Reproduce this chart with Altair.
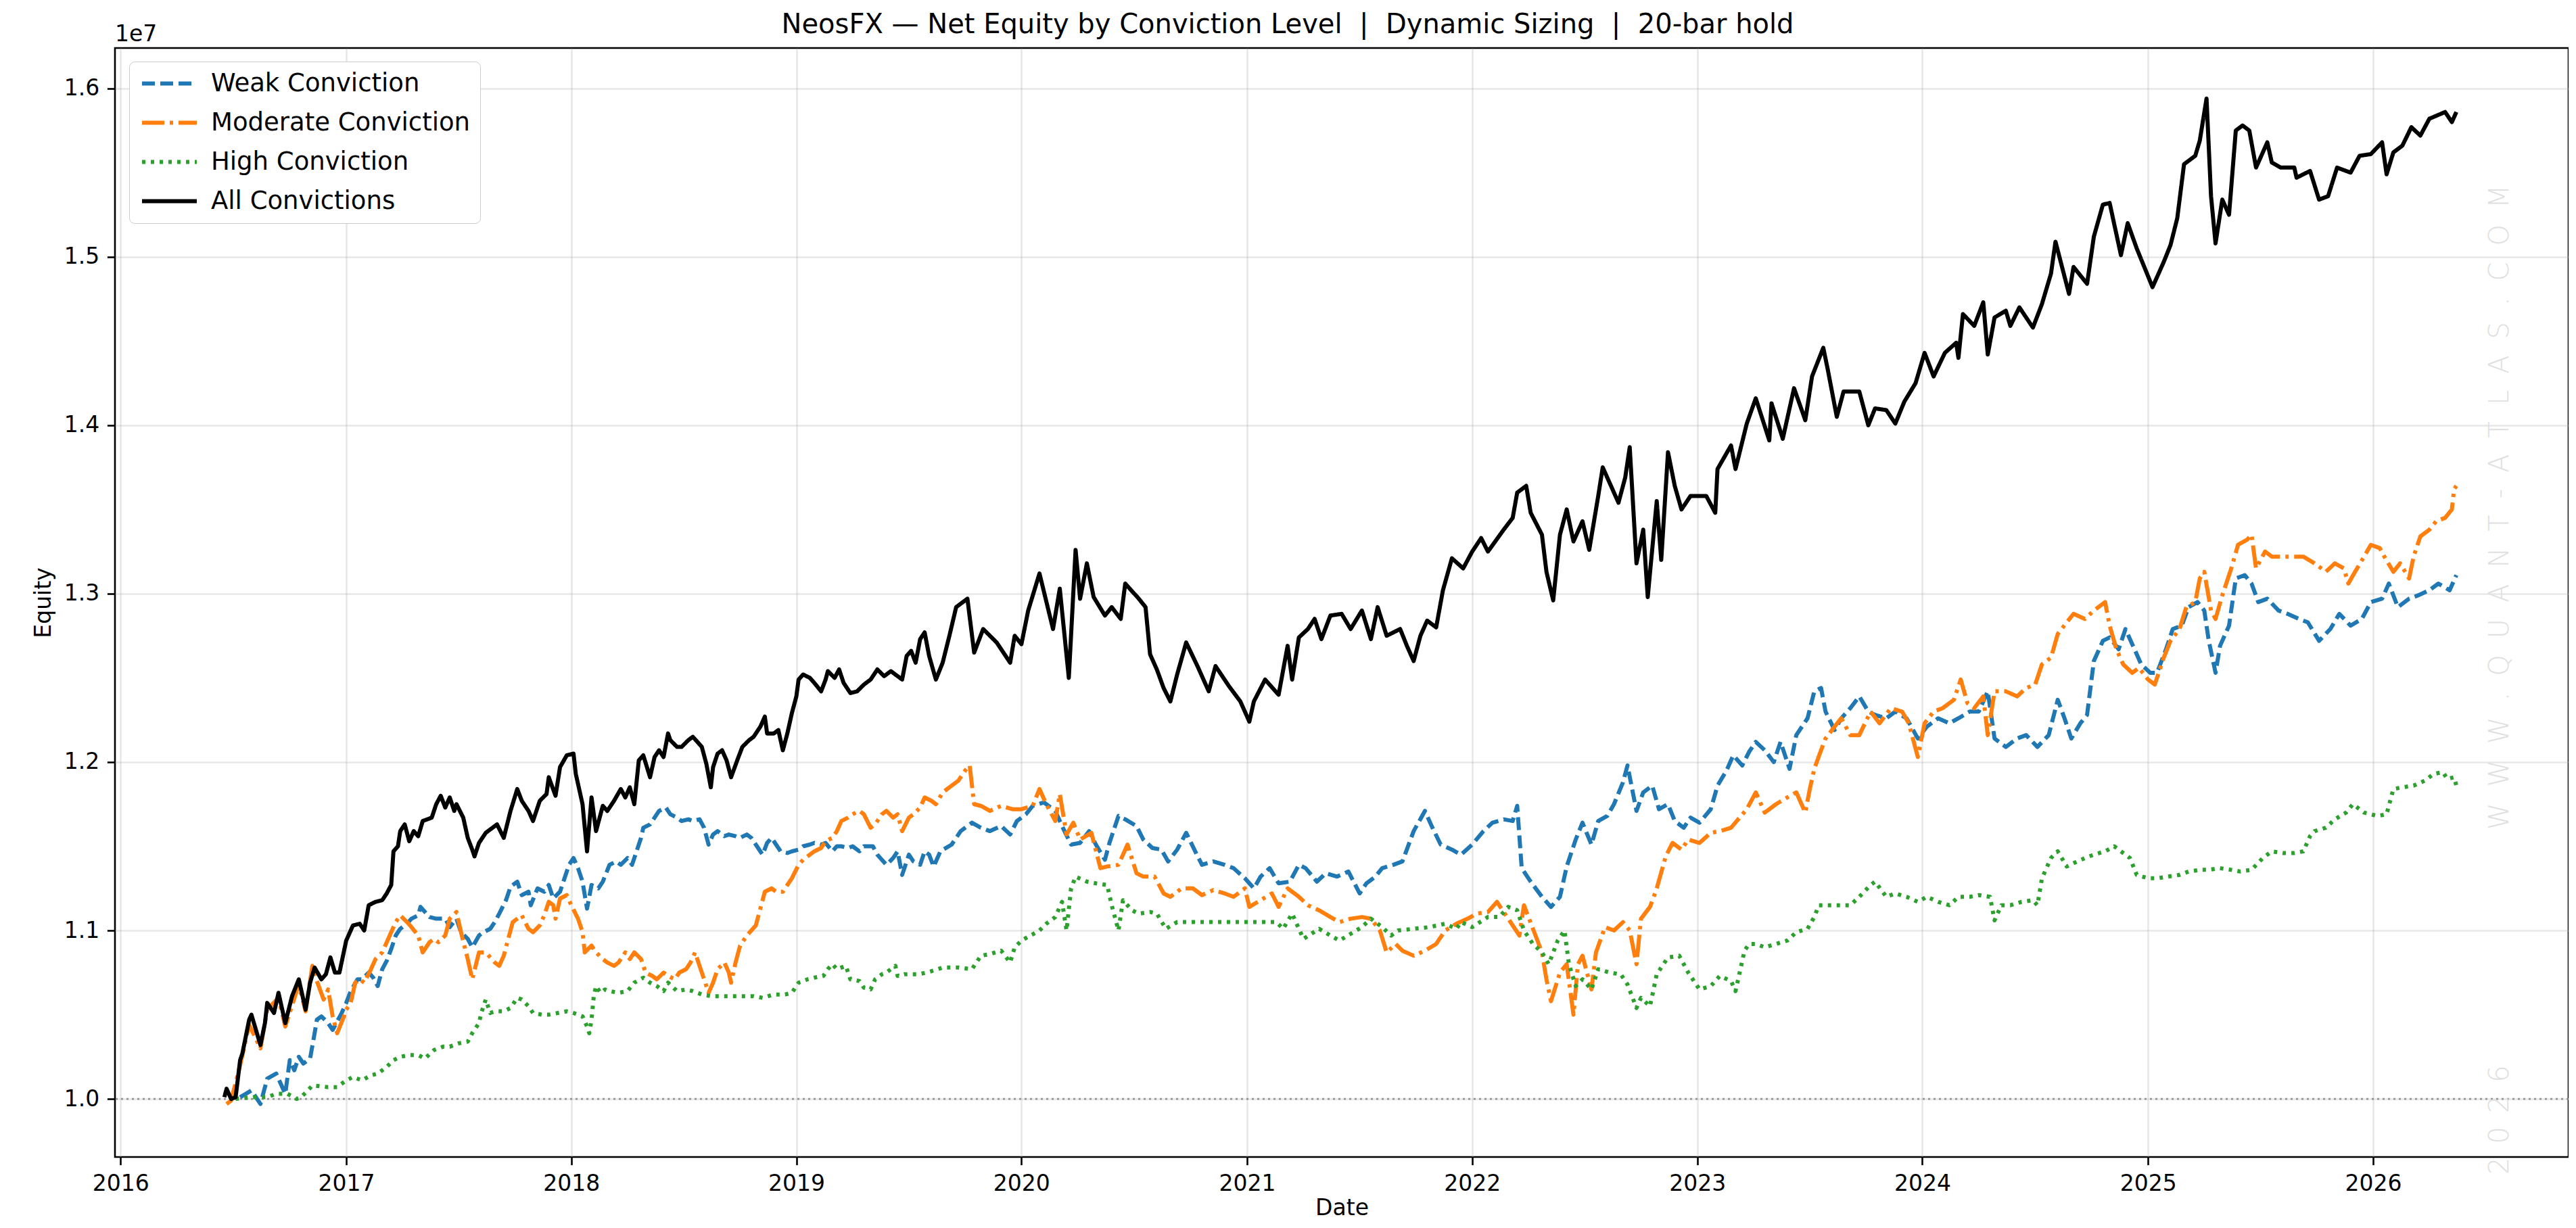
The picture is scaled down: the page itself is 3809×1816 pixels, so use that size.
import altair as alt
import pandas as pd

# ---------------- data (equity in units of 1e7, time in decimal years) ----------------
series_names = ["Weak Conviction", "Moderate Conviction", "High Conviction", "All Convictions"]
series_colors = ["#1f77b4", "#ff7f0e", "#2ca02c", "#000000"]
series_dashes = [[19, 8], [33, 8, 5, 8], [5, 8], [1, 0]]
series_widths = [6, 6, 6, 10]

weak_years = [2016.53, 2016.58, 2016.62, 2016.65, 2016.69, 2016.71, 2016.73, 2016.75, 2016.77, 2016.79,
              2016.81, 2016.84, 2016.86, 2016.87, 2016.89, 2016.92, 2016.94, 2016.98, 2017.00, 2017.02,
              2017.05, 2017.07, 2017.10, 2017.12, 2017.14, 2017.16, 2017.18, 2017.20, 2017.22, 2017.24,
              2017.27, 2017.29, 2017.32, 2017.33, 2017.37, 2017.40, 2017.44, 2017.46, 2017.49, 2017.51,
              2017.54, 2017.56, 2017.59, 2017.61, 2017.64, 2017.66, 2017.68, 2017.71, 2017.73, 2017.76,
              2017.78, 2017.81, 2017.82, 2017.85, 2017.88, 2017.90, 2017.92, 2017.95, 2017.97, 2017.99,
              2018.01, 2018.03, 2018.05, 2018.07, 2018.09, 2018.12, 2018.14, 2018.17, 2018.20, 2018.22,
              2018.25, 2018.27, 2018.29, 2018.31, 2018.32, 2018.35, 2018.37, 2018.39, 2018.42, 2018.44,
              2018.47, 2018.49, 2018.52, 2018.54, 2018.57, 2018.59, 2018.61, 2018.63, 2018.65, 2018.68,
              2018.70, 2018.73, 2018.75, 2018.78, 2018.80, 2018.82, 2018.85, 2018.87, 2018.89, 2018.91,
              2018.93, 2018.96, 2018.98, 2019.01, 2019.03, 2019.06, 2019.08, 2019.11, 2019.13, 2019.16,
              2019.18, 2019.20, 2019.23, 2019.25, 2019.28, 2019.30, 2019.34, 2019.36, 2019.38, 2019.40,
              2019.43, 2019.45, 2019.47, 2019.50, 2019.52, 2019.55, 2019.57, 2019.59, 2019.61, 2019.64,
              2019.69, 2019.73, 2019.78, 2019.82, 2019.86, 2019.91, 2019.95, 2019.98, 2020.02, 2020.05,
              2020.10, 2020.15, 2020.18, 2020.22, 2020.26, 2020.30, 2020.33, 2020.37, 2020.39, 2020.43,
              2020.46, 2020.51, 2020.54, 2020.58, 2020.62, 2020.65, 2020.69, 2020.73, 2020.77, 2020.80,
              2020.85, 2020.90, 2020.94, 2020.99, 2021.03, 2021.06, 2021.10, 2021.14, 2021.19, 2021.23,
              2021.26, 2021.31, 2021.35, 2021.40, 2021.45, 2021.50, 2021.53, 2021.57, 2021.60, 2021.65,
              2021.69, 2021.74, 2021.79, 2021.82, 2021.86, 2021.91, 2021.95, 2022.00, 2022.05, 2022.09,
              2022.14, 2022.18, 2022.20, 2022.22, 2022.26, 2022.31, 2022.35, 2022.39, 2022.42, 2022.46,
              2022.49, 2022.53, 2022.56, 2022.60, 2022.63, 2022.67, 2022.69, 2022.73, 2022.76, 2022.80,
              2022.83, 2022.87, 2022.90, 2022.94, 2022.97, 2023.01, 2023.06, 2023.09, 2023.13, 2023.16,
              2023.20, 2023.23, 2023.26, 2023.30, 2023.34, 2023.37, 2023.41, 2023.44, 2023.49, 2023.52,
              2023.55, 2023.57, 2023.61, 2023.64, 2023.68, 2023.72, 2023.76, 2023.79, 2023.84, 2023.88,
              2023.93, 2023.98, 2024.02, 2024.07, 2024.12, 2024.16, 2024.21, 2024.25, 2024.29, 2024.32,
              2024.37, 2024.42, 2024.46, 2024.51, 2024.56, 2024.60, 2024.63, 2024.66, 2024.70, 2024.73,
              2024.76, 2024.80, 2024.83, 2024.87, 2024.90, 2024.94, 2024.97, 2025.01, 2025.04, 2025.08,
              2025.11, 2025.15, 2025.18, 2025.22, 2025.25, 2025.27, 2025.30, 2025.32, 2025.36, 2025.39,
              2025.43, 2025.46, 2025.49, 2025.53, 2025.58, 2025.62, 2025.67, 2025.71, 2025.76, 2025.81,
              2025.85, 2025.90, 2025.95, 2025.99, 2026.04, 2026.07, 2026.11, 2026.16, 2026.20, 2026.25,
              2026.29, 2026.34, 2026.37]
weak_equity = [1.001, 1.005, 0.997, 1.012, 1.015, 1.009, 1.003, 1.023, 1.017, 1.025,
               1.021, 1.024, 1.039, 1.047, 1.049, 1.045, 1.041, 1.051, 1.057, 1.064,
               1.071, 1.071, 1.075, 1.072, 1.067, 1.077, 1.082, 1.089, 1.097, 1.101,
               1.104, 1.107, 1.109, 1.114, 1.108, 1.107, 1.107, 1.102, 1.107, 1.099,
               1.095, 1.090, 1.097, 1.099, 1.101, 1.105, 1.110, 1.118, 1.126, 1.129,
               1.121, 1.123, 1.115, 1.125, 1.123, 1.127, 1.119, 1.123, 1.131, 1.139,
               1.143, 1.137, 1.129, 1.113, 1.127, 1.125, 1.129, 1.139, 1.141, 1.139,
               1.143, 1.139, 1.147, 1.155, 1.161, 1.163, 1.167, 1.171, 1.173, 1.169,
               1.167, 1.165, 1.166, 1.165, 1.166, 1.161, 1.151, 1.157, 1.159, 1.156,
               1.157, 1.156, 1.155, 1.157, 1.155, 1.151, 1.145, 1.152, 1.155, 1.151,
               1.147, 1.146, 1.147, 1.148, 1.150, 1.151, 1.152, 1.151, 1.152, 1.147,
               1.150, 1.150, 1.149, 1.150, 1.147, 1.150, 1.150, 1.145, 1.142, 1.139,
               1.143, 1.147, 1.133, 1.145, 1.141, 1.139, 1.147, 1.145, 1.138, 1.147,
               1.151, 1.159, 1.164, 1.161, 1.159, 1.162, 1.157, 1.165, 1.169, 1.174,
               1.176, 1.171, 1.162, 1.151, 1.152, 1.159, 1.151, 1.142, 1.152, 1.168,
               1.166, 1.162, 1.154, 1.149, 1.148, 1.141, 1.148, 1.158, 1.147, 1.139,
               1.141, 1.139, 1.137, 1.131, 1.125, 1.132, 1.137, 1.128, 1.129, 1.139,
               1.137, 1.129, 1.134, 1.132, 1.135, 1.122, 1.128, 1.132, 1.137, 1.139,
               1.141, 1.159, 1.171, 1.162, 1.151, 1.148, 1.145, 1.151, 1.159, 1.164,
               1.166, 1.165, 1.174, 1.137, 1.129, 1.120, 1.114, 1.120, 1.138, 1.154,
               1.164, 1.151, 1.165, 1.168, 1.175, 1.188, 1.198, 1.171, 1.182, 1.186,
               1.172, 1.175, 1.165, 1.161, 1.167, 1.164, 1.172, 1.186, 1.195, 1.204,
               1.198, 1.206, 1.212, 1.207, 1.200, 1.212, 1.196, 1.216, 1.226, 1.242,
               1.244, 1.230, 1.219, 1.226, 1.232, 1.239, 1.230, 1.228, 1.226, 1.230,
               1.226, 1.214, 1.221, 1.226, 1.223, 1.226, 1.230, 1.230, 1.242, 1.214,
               1.209, 1.214, 1.216, 1.209, 1.216, 1.237, 1.226, 1.214, 1.223, 1.228,
               1.260, 1.272, 1.274, 1.267, 1.279, 1.267, 1.258, 1.253, 1.253, 1.267,
               1.279, 1.281, 1.292, 1.295, 1.290, 1.272, 1.253, 1.269, 1.281, 1.309,
               1.311, 1.306, 1.295, 1.297, 1.290, 1.288, 1.285, 1.283, 1.272, 1.279,
               1.288, 1.281, 1.285, 1.295, 1.297, 1.306, 1.292, 1.297, 1.299, 1.302,
               1.306, 1.302, 1.311]

moderate_years = [2016.47, 2016.49, 2016.53, 2016.57, 2016.62, 2016.65, 2016.70, 2016.73, 2016.79, 2016.82,
                  2016.85, 2016.87, 2016.90, 2016.92, 2016.94, 2016.96, 2016.99, 2017.00, 2017.02, 2017.04,
                  2017.06, 2017.08, 2017.11, 2017.13, 2017.16, 2017.18, 2017.20, 2017.22, 2017.24, 2017.27,
                  2017.29, 2017.32, 2017.34, 2017.37, 2017.39, 2017.41, 2017.44, 2017.46, 2017.49, 2017.51,
                  2017.54, 2017.56, 2017.59, 2017.62, 2017.64, 2017.66, 2017.68, 2017.70, 2017.72, 2017.74,
                  2017.76, 2017.78, 2017.81, 2017.83, 2017.86, 2017.88, 2017.90, 2017.92, 2017.93, 2017.95,
                  2017.98, 2018.00, 2018.03, 2018.05, 2018.06, 2018.09, 2018.11, 2018.14, 2018.16, 2018.19,
                  2018.21, 2018.24, 2018.26, 2018.28, 2018.31, 2018.33, 2018.36, 2018.38, 2018.41, 2018.43,
                  2018.46, 2018.48, 2018.51, 2018.53, 2018.55, 2018.57, 2018.59, 2018.61, 2018.63, 2018.65,
                  2018.68, 2018.70, 2018.71, 2018.73, 2018.75, 2018.78, 2018.80, 2018.82, 2018.84, 2018.86,
                  2018.89, 2018.91, 2018.94, 2018.96, 2018.98, 2019.01, 2019.03, 2019.06, 2019.08, 2019.11,
                  2019.13, 2019.16, 2019.18, 2019.20, 2019.23, 2019.25, 2019.28, 2019.30, 2019.33, 2019.35,
                  2019.38, 2019.40, 2019.43, 2019.45, 2019.47, 2019.50, 2019.52, 2019.55, 2019.57, 2019.60,
                  2019.62, 2019.65, 2019.69, 2019.72, 2019.75, 2019.77, 2019.79, 2019.82, 2019.86, 2019.91,
                  2019.96, 2020.00, 2020.05, 2020.08, 2020.11, 2020.15, 2020.17, 2020.20, 2020.23, 2020.26,
                  2020.31, 2020.35, 2020.38, 2020.43, 2020.47, 2020.51, 2020.54, 2020.59, 2020.63, 2020.66,
                  2020.71, 2020.76, 2020.80, 2020.85, 2020.90, 2020.94, 2020.99, 2021.01, 2021.06, 2021.11,
                  2021.14, 2021.18, 2021.23, 2021.27, 2021.32, 2021.37, 2021.41, 2021.46, 2021.51, 2021.55,
                  2021.59, 2021.62, 2021.66, 2021.69, 2021.74, 2021.79, 2021.84, 2021.88, 2021.93, 2021.98,
                  2022.02, 2022.07, 2022.11, 2022.14, 2022.19, 2022.21, 2022.23, 2022.27, 2022.31, 2022.33,
                  2022.35, 2022.39, 2022.42, 2022.45, 2022.47, 2022.49, 2022.53, 2022.55, 2022.59, 2022.63,
                  2022.67, 2022.70, 2022.73, 2022.75, 2022.79, 2022.82, 2022.86, 2022.89, 2022.93, 2022.96,
                  2023.01, 2023.06, 2023.10, 2023.15, 2023.22, 2023.26, 2023.30, 2023.35, 2023.40, 2023.44,
                  2023.48, 2023.50, 2023.52, 2023.55, 2023.57, 2023.61, 2023.64, 2023.68, 2023.72, 2023.77,
                  2023.81, 2023.86, 2023.91, 2023.94, 2023.98, 2024.01, 2024.05, 2024.09, 2024.14, 2024.17,
                  2024.20, 2024.23, 2024.27, 2024.29, 2024.32, 2024.37, 2024.42, 2024.46, 2024.50, 2024.53,
                  2024.57, 2024.60, 2024.64, 2024.67, 2024.72, 2024.76, 2024.81, 2024.83, 2024.86, 2024.89,
                  2024.93, 2024.96, 2025.00, 2025.03, 2025.07, 2025.10, 2025.14, 2025.17, 2025.21, 2025.23,
                  2025.25, 2025.28, 2025.30, 2025.33, 2025.37, 2025.40, 2025.44, 2025.46, 2025.48, 2025.52,
                  2025.55, 2025.60, 2025.65, 2025.69, 2025.74, 2025.79, 2025.83, 2025.87, 2025.89, 2025.92,
                  2025.96, 2025.99, 2026.03, 2026.05, 2026.09, 2026.12, 2026.16, 2026.18, 2026.21, 2026.25,
                  2026.28, 2026.32, 2026.35, 2026.36, 2026.37]
moderate_equity = [0.997, 0.999, 1.020, 1.044, 1.030, 1.053, 1.060, 1.043, 1.068, 1.052,
                   1.079, 1.070, 1.059, 1.065, 1.049, 1.039, 1.049, 1.053, 1.057, 1.069,
                   1.071, 1.069, 1.077, 1.083, 1.087, 1.093, 1.099, 1.105, 1.109, 1.105,
                   1.102, 1.097, 1.087, 1.093, 1.095, 1.093, 1.097, 1.107, 1.111, 1.099,
                   1.083, 1.071, 1.087, 1.087, 1.084, 1.081, 1.079, 1.085, 1.095, 1.105,
                   1.107, 1.109, 1.101, 1.099, 1.103, 1.109, 1.117, 1.115, 1.107, 1.119,
                   1.121, 1.115, 1.107, 1.099, 1.087, 1.091, 1.087, 1.083, 1.081, 1.079,
                   1.081, 1.087, 1.083, 1.087, 1.083, 1.075, 1.073, 1.071, 1.075, 1.073,
                   1.071, 1.075, 1.077, 1.081, 1.087, 1.079, 1.071, 1.063, 1.069, 1.077,
                   1.081, 1.075, 1.069, 1.081, 1.091, 1.097, 1.100, 1.103, 1.113, 1.123,
                   1.125, 1.123, 1.123, 1.127, 1.131, 1.139, 1.142, 1.145, 1.147, 1.149,
                   1.153, 1.155, 1.159, 1.165, 1.167, 1.169, 1.171, 1.169, 1.161, 1.163,
                   1.169, 1.171, 1.167, 1.169, 1.159, 1.167, 1.169, 1.173, 1.179, 1.177,
                   1.175, 1.182, 1.186, 1.189, 1.195, 1.198, 1.175, 1.174, 1.171, 1.174,
                   1.172, 1.172, 1.174, 1.184, 1.175, 1.165, 1.181, 1.157, 1.164, 1.154,
                   1.158, 1.137, 1.138, 1.139, 1.151, 1.134, 1.132, 1.132, 1.122, 1.120,
                   1.125, 1.125, 1.121, 1.124, 1.122, 1.120, 1.125, 1.114, 1.118, 1.122,
                   1.114, 1.125, 1.120, 1.115, 1.112, 1.108, 1.105, 1.107, 1.108, 1.107,
                   1.100, 1.087, 1.092, 1.088, 1.085, 1.088, 1.092, 1.100, 1.104, 1.107,
                   1.110, 1.111, 1.117, 1.111, 1.101, 1.097, 1.115, 1.101, 1.087, 1.071,
                   1.058, 1.075, 1.080, 1.050, 1.080, 1.085, 1.065, 1.087, 1.102, 1.100,
                   1.105, 1.100, 1.080, 1.107, 1.114, 1.125, 1.144, 1.152, 1.148, 1.154,
                   1.152, 1.158, 1.159, 1.161, 1.172, 1.182, 1.170, 1.175, 1.179, 1.182,
                   1.170, 1.184, 1.196, 1.207, 1.214, 1.221, 1.226, 1.216, 1.216, 1.230,
                   1.223, 1.232, 1.230, 1.223, 1.203, 1.223, 1.230, 1.232, 1.237, 1.249,
                   1.235, 1.232, 1.239, 1.216, 1.242, 1.242, 1.239, 1.244, 1.246, 1.258,
                   1.262, 1.276, 1.283, 1.288, 1.285, 1.290, 1.295, 1.281, 1.267, 1.258,
                   1.253, 1.256, 1.249, 1.246, 1.262, 1.272, 1.279, 1.292, 1.295, 1.309,
                   1.313, 1.290, 1.285, 1.299, 1.315, 1.329, 1.332, 1.335, 1.315, 1.325,
                   1.322, 1.322, 1.322, 1.322, 1.318, 1.313, 1.318, 1.315, 1.306, 1.313,
                   1.322, 1.329, 1.327, 1.322, 1.313, 1.318, 1.309, 1.322, 1.334, 1.338,
                   1.343, 1.345, 1.350, 1.362, 1.364]

high_years = [2016.51, 2016.58, 2016.65, 2016.69, 2016.74, 2016.78, 2016.80, 2016.83, 2016.85, 2016.92,
              2016.96, 2017.00, 2017.03, 2017.07, 2017.11, 2017.14, 2017.18, 2017.21, 2017.24, 2017.28,
              2017.32, 2017.35, 2017.39, 2017.43, 2017.46, 2017.50, 2017.54, 2017.56, 2017.59, 2017.60,
              2017.62, 2017.64, 2017.66, 2017.70, 2017.73, 2017.76, 2017.78, 2017.81, 2017.83, 2017.87,
              2017.90, 2017.94, 2017.98, 2018.01, 2018.05, 2018.07, 2018.08, 2018.09, 2018.10, 2018.11,
              2018.13, 2018.15, 2018.17, 2018.21, 2018.25, 2018.28, 2018.32, 2018.35, 2018.38, 2018.41,
              2018.43, 2018.47, 2018.51, 2018.54, 2018.58, 2018.62, 2018.67, 2018.71, 2018.76, 2018.81,
              2018.85, 2018.90, 2018.95, 2018.98, 2019.01, 2019.05, 2019.08, 2019.12, 2019.14, 2019.16,
              2019.18, 2019.22, 2019.24, 2019.28, 2019.30, 2019.33, 2019.35, 2019.38, 2019.40, 2019.44,
              2019.45, 2019.48, 2019.54, 2019.58, 2019.65, 2019.72, 2019.78, 2019.82, 2019.86, 2019.91,
              2019.95, 2019.97, 2020.00, 2020.04, 2020.08, 2020.11, 2020.15, 2020.18, 2020.20, 2020.22,
              2020.24, 2020.29, 2020.33, 2020.38, 2020.40, 2020.43, 2020.45, 2020.49, 2020.52, 2020.57,
              2020.60, 2020.64, 2020.69, 2020.76, 2020.85, 2020.94, 2021.04, 2021.13, 2021.16, 2021.20,
              2021.23, 2021.25, 2021.32, 2021.37, 2021.41, 2021.46, 2021.51, 2021.55, 2021.60, 2021.64,
              2021.67, 2021.74, 2021.81, 2021.88, 2021.93, 2021.95, 2022.00, 2022.07, 2022.12, 2022.16,
              2022.20, 2022.23, 2022.27, 2022.31, 2022.34, 2022.38, 2022.41, 2022.43, 2022.46, 2022.49,
              2022.53, 2022.56, 2022.61, 2022.66, 2022.69, 2022.73, 2022.75, 2022.79, 2022.82, 2022.87,
              2022.92, 2022.96, 2023.01, 2023.06, 2023.10, 2023.15, 2023.17, 2023.21, 2023.23, 2023.26,
              2023.30, 2023.35, 2023.40, 2023.44, 2023.49, 2023.52, 2023.54, 2023.58, 2023.63, 2023.68,
              2023.72, 2023.77, 2023.79, 2023.84, 2023.88, 2023.93, 2023.98, 2024.02, 2024.07, 2024.12,
              2024.16, 2024.21, 2024.25, 2024.30, 2024.32, 2024.35, 2024.39, 2024.44, 2024.49, 2024.51,
              2024.53, 2024.57, 2024.60, 2024.64, 2024.67, 2024.72, 2024.76, 2024.81, 2024.85, 2024.88,
              2024.92, 2024.95, 2025.00, 2025.04, 2025.09, 2025.14, 2025.18, 2025.23, 2025.27, 2025.32,
              2025.37, 2025.41, 2025.46, 2025.51, 2025.55, 2025.60, 2025.65, 2025.69, 2025.72, 2025.74,
              2025.79, 2025.83, 2025.88, 2025.91, 2025.96, 2026.02, 2026.06, 2026.09, 2026.13, 2026.18,
              2026.23, 2026.27, 2026.31, 2026.33, 2026.36, 2026.37]
high_equity = [1.000, 1.001, 1.001, 1.003, 1.003, 1.000, 1.001, 1.005, 1.008, 1.007,
               1.007, 1.011, 1.013, 1.011, 1.014, 1.015, 1.019, 1.023, 1.025, 1.026,
               1.026, 1.024, 1.029, 1.031, 1.031, 1.033, 1.034, 1.039, 1.045, 1.051,
               1.059, 1.051, 1.052, 1.052, 1.054, 1.060, 1.059, 1.055, 1.051, 1.050,
               1.050, 1.051, 1.052, 1.051, 1.049, 1.043, 1.039, 1.047, 1.061, 1.067,
               1.063, 1.065, 1.064, 1.063, 1.064, 1.069, 1.072, 1.069, 1.067, 1.064,
               1.069, 1.064, 1.065, 1.064, 1.062, 1.061, 1.061, 1.061, 1.061, 1.061,
               1.060, 1.062, 1.062, 1.063, 1.069, 1.071, 1.072, 1.073, 1.077, 1.080,
               1.077, 1.079, 1.071, 1.070, 1.066, 1.065, 1.071, 1.074, 1.075, 1.079,
               1.073, 1.074, 1.074, 1.075, 1.078, 1.078, 1.077, 1.085, 1.086, 1.088,
               1.081, 1.090, 1.094, 1.097, 1.100, 1.104, 1.108, 1.117, 1.100, 1.125,
               1.132, 1.129, 1.128, 1.127, 1.115, 1.100, 1.118, 1.112, 1.110, 1.111,
               1.110, 1.101, 1.105, 1.105, 1.105, 1.105, 1.105, 1.105, 1.101, 1.110,
               1.101, 1.095, 1.101, 1.097, 1.094, 1.098, 1.102, 1.107, 1.102, 1.097,
               1.100, 1.101, 1.102, 1.104, 1.101, 1.105, 1.102, 1.108, 1.108, 1.114,
               1.112, 1.100, 1.092, 1.087, 1.080, 1.094, 1.100, 1.080, 1.067, 1.071,
               1.065, 1.077, 1.075, 1.074, 1.068, 1.054, 1.060, 1.055, 1.074, 1.084,
               1.085, 1.075, 1.065, 1.067, 1.073, 1.070, 1.064, 1.088, 1.092, 1.092,
               1.090, 1.092, 1.094, 1.099, 1.101, 1.108, 1.115, 1.115, 1.115, 1.115,
               1.120, 1.127, 1.129, 1.120, 1.122, 1.120, 1.117, 1.120, 1.117, 1.115,
               1.120, 1.120, 1.121, 1.120, 1.106, 1.115, 1.115, 1.117, 1.118, 1.115,
               1.131, 1.143, 1.147, 1.138, 1.140, 1.143, 1.145, 1.147, 1.150, 1.147,
               1.143, 1.133, 1.131, 1.131, 1.132, 1.133, 1.135, 1.136, 1.136, 1.137,
               1.136, 1.135, 1.136, 1.143, 1.147, 1.146, 1.146, 1.147, 1.156, 1.159,
               1.161, 1.166, 1.170, 1.175, 1.170, 1.168, 1.169, 1.184, 1.185, 1.186,
               1.189, 1.193, 1.194, 1.190, 1.191, 1.186]

all_years = [2016.46, 2016.47, 2016.49, 2016.51, 2016.53, 2016.54, 2016.57, 2016.58, 2016.62, 2016.64,
             2016.65, 2016.68, 2016.70, 2016.73, 2016.76, 2016.79, 2016.82, 2016.84, 2016.86, 2016.89,
             2016.91, 2016.93, 2016.95, 2016.97, 2017.00, 2017.03, 2017.06, 2017.08, 2017.10, 2017.13,
             2017.16, 2017.18, 2017.20, 2017.21, 2017.23, 2017.24, 2017.26, 2017.28, 2017.30, 2017.32,
             2017.34, 2017.38, 2017.40, 2017.42, 2017.44, 2017.46, 2017.48, 2017.49, 2017.52, 2017.54,
             2017.56, 2017.57, 2017.59, 2017.62, 2017.65, 2017.67, 2017.70, 2017.73, 2017.76, 2017.78,
             2017.81, 2017.83, 2017.86, 2017.89, 2017.90, 2017.93, 2017.95, 2017.98, 2018.01, 2018.02,
             2018.05, 2018.07, 2018.09, 2018.11, 2018.14, 2018.16, 2018.19, 2018.22, 2018.24, 2018.26,
             2018.28, 2018.30, 2018.32, 2018.35, 2018.37, 2018.39, 2018.41, 2018.43, 2018.44, 2018.47,
             2018.49, 2018.52, 2018.54, 2018.58, 2018.60, 2018.62, 2018.63, 2018.65, 2018.67, 2018.69,
             2018.71, 2018.74, 2018.76, 2018.79, 2018.81, 2018.84, 2018.86, 2018.87, 2018.90, 2018.92,
             2018.94, 2018.96, 2018.98, 2019.00, 2019.01, 2019.03, 2019.06, 2019.08, 2019.11, 2019.13,
             2019.14, 2019.17, 2019.19, 2019.21, 2019.24, 2019.27, 2019.30, 2019.33, 2019.36, 2019.39,
             2019.42, 2019.45, 2019.47, 2019.49, 2019.51, 2019.53, 2019.55, 2019.57, 2019.59, 2019.62,
             2019.65, 2019.68, 2019.71, 2019.76, 2019.79, 2019.83, 2019.89, 2019.95, 2019.97, 2020.00,
             2020.03, 2020.08, 2020.14, 2020.17, 2020.21, 2020.24, 2020.26, 2020.29, 2020.32, 2020.37,
             2020.40, 2020.44, 2020.46, 2020.52, 2020.55, 2020.57, 2020.60, 2020.63, 2020.66, 2020.69,
             2020.73, 2020.78, 2020.83, 2020.86, 2020.92, 2020.97, 2021.01, 2021.03, 2021.08, 2021.14,
             2021.18, 2021.20, 2021.23, 2021.27, 2021.30, 2021.33, 2021.37, 2021.42, 2021.46, 2021.51,
             2021.55, 2021.58, 2021.62, 2021.68, 2021.71, 2021.74, 2021.77, 2021.80, 2021.84, 2021.87,
             2021.91, 2021.96, 2022.00, 2022.04, 2022.07, 2022.14, 2022.18, 2022.20, 2022.24, 2022.26,
             2022.31, 2022.33, 2022.36, 2022.39, 2022.42, 2022.45, 2022.49, 2022.52, 2022.56, 2022.58,
             2022.62, 2022.65, 2022.68, 2022.70, 2022.73, 2022.76, 2022.78, 2022.82, 2022.84, 2022.87,
             2022.90, 2022.93, 2022.97, 2023.04, 2023.08, 2023.09, 2023.15, 2023.17, 2023.22, 2023.26,
             2023.32, 2023.33, 2023.38, 2023.43, 2023.48, 2023.51, 2023.56, 2023.58, 2023.62, 2023.65,
             2023.72, 2023.76, 2023.79, 2023.84, 2023.88, 2023.92, 2023.97, 2024.01, 2024.05, 2024.10,
             2024.15, 2024.16, 2024.18, 2024.23, 2024.27, 2024.29, 2024.32, 2024.37, 2024.39, 2024.43,
             2024.49, 2024.53, 2024.57, 2024.59, 2024.65, 2024.67, 2024.73, 2024.76, 2024.80, 2024.83,
             2024.88, 2024.91, 2024.95, 2025.02, 2025.07, 2025.10, 2025.13, 2025.16, 2025.21, 2025.23,
             2025.26, 2025.28, 2025.30, 2025.33, 2025.36, 2025.39, 2025.42, 2025.45, 2025.48, 2025.53,
             2025.55, 2025.59, 2025.65, 2025.66, 2025.72, 2025.76, 2025.80, 2025.84, 2025.90, 2025.94,
             2025.99, 2026.04, 2026.06, 2026.09, 2026.13, 2026.17, 2026.21, 2026.25, 2026.32, 2026.35,
             2026.37]
all_equity = [1.001, 1.006, 1.000, 1.001, 1.023, 1.027, 1.047, 1.050, 1.032, 1.045,
              1.057, 1.051, 1.063, 1.045, 1.061, 1.071, 1.053, 1.069, 1.078, 1.071,
              1.074, 1.084, 1.075, 1.075, 1.094, 1.103, 1.104, 1.100, 1.115, 1.117,
              1.118, 1.122, 1.127, 1.147, 1.150, 1.159, 1.163, 1.153, 1.159, 1.156,
              1.165, 1.167, 1.175, 1.180, 1.173, 1.179, 1.171, 1.175, 1.167, 1.155,
              1.148, 1.144, 1.152, 1.158, 1.161, 1.163, 1.155, 1.171, 1.184, 1.177,
              1.171, 1.165, 1.177, 1.181, 1.191, 1.180, 1.197, 1.204, 1.205, 1.193,
              1.175, 1.147, 1.179, 1.159, 1.174, 1.171, 1.177, 1.184, 1.179, 1.185,
              1.175, 1.201, 1.204, 1.191, 1.203, 1.207, 1.203, 1.217, 1.213, 1.209,
              1.209, 1.213, 1.215, 1.209, 1.199, 1.185, 1.197, 1.205, 1.207, 1.201,
              1.191, 1.202, 1.209, 1.213, 1.215, 1.221, 1.227, 1.217, 1.217, 1.219,
              1.207, 1.217, 1.229, 1.239, 1.249, 1.252, 1.250, 1.247, 1.242, 1.249,
              1.254, 1.250, 1.255, 1.247, 1.241, 1.242, 1.246, 1.249, 1.255, 1.251,
              1.254, 1.251, 1.249, 1.263, 1.266, 1.259, 1.273, 1.277, 1.263, 1.249,
              1.259, 1.275, 1.292, 1.297, 1.265, 1.279, 1.271, 1.259, 1.275, 1.270,
              1.290, 1.312, 1.279, 1.303, 1.250, 1.326, 1.297, 1.318, 1.298, 1.287,
              1.292, 1.285, 1.306, 1.297, 1.292, 1.264, 1.255, 1.244, 1.236, 1.252,
              1.271, 1.257, 1.242, 1.257, 1.245, 1.236, 1.224, 1.236, 1.249, 1.240,
              1.269, 1.249, 1.274, 1.279, 1.285, 1.273, 1.287, 1.288, 1.279, 1.290,
              1.273, 1.292, 1.275, 1.279, 1.269, 1.260, 1.275, 1.284, 1.280, 1.302,
              1.321, 1.315, 1.325, 1.333, 1.325, 1.338, 1.345, 1.360, 1.364, 1.348,
              1.335, 1.313, 1.296, 1.335, 1.350, 1.331, 1.343, 1.326, 1.358, 1.375,
              1.363, 1.354, 1.369, 1.387, 1.318, 1.338, 1.298, 1.355, 1.320, 1.384,
              1.364, 1.350, 1.358, 1.358, 1.348, 1.374, 1.388, 1.374, 1.401, 1.416,
              1.391, 1.413, 1.392, 1.422, 1.403, 1.429, 1.446, 1.433, 1.405, 1.420,
              1.420, 1.400, 1.410, 1.409, 1.401, 1.414, 1.425, 1.443, 1.429, 1.443,
              1.449, 1.440, 1.466, 1.459, 1.473, 1.442, 1.464, 1.468, 1.459, 1.470,
              1.458, 1.472, 1.490, 1.509, 1.478, 1.494, 1.484, 1.512, 1.531, 1.532,
              1.501, 1.520, 1.505, 1.482, 1.497, 1.507, 1.523, 1.555, 1.560, 1.569,
              1.594, 1.536, 1.508, 1.534, 1.525, 1.575, 1.578, 1.575, 1.553, 1.568,
              1.556, 1.553, 1.553, 1.547, 1.551, 1.534, 1.536, 1.553, 1.550, 1.560,
              1.561, 1.568, 1.549, 1.562, 1.566, 1.577, 1.572, 1.582, 1.586, 1.580,
              1.586]

baseline_equity = [1.0]

title_text = "NeosFX \u2014 Net Equity by Conviction Level\u00a0 |\u00a0 Dynamic Sizing\u00a0 |\u00a0 20-bar hold"
y_tick_values = [1.0, 1.1, 1.2, 1.3, 1.4, 1.5, 1.6]
offset_label = "1e7"
watermark_year = "2026"
watermark_site = "WWW.QUANT-ATLAS.COM"


def year_to_date(y):
    yr = int(y)
    start = pd.Timestamp(year=yr, month=1, day=1)
    end = pd.Timestamp(year=yr + 1, month=1, day=1)
    return start + (end - start) * (y - yr)


frames = []
for name, ys, vs in [(series_names[0], weak_years, weak_equity),
                     (series_names[1], moderate_years, moderate_equity),
                     (series_names[2], high_years, high_equity),
                     (series_names[3], all_years, all_equity)]:
    frames.append(pd.DataFrame({"Date": [year_to_date(y) for y in ys], "Equity": vs, "Series": name}))
df = pd.concat(frames, ignore_index=True)

FONT = "DejaVu Sans"
PLOT_W = 3628
PLOT_H = 1640

x_enc = alt.X("Date:T",
              scale=alt.Scale(domain=[alt.DateTime(year=2015, month=12, date=23),
                                      alt.DateTime(year=2026, month=11, date=14)], nice=False),
              axis=alt.Axis(title="Date", format="%Y",
                            tickCount={"interval": "year", "step": 1}))
y_enc = alt.Y("Equity:Q",
              scale=alt.Scale(domain=[0.9655, 1.624], nice=False, zero=False),
              axis=alt.Axis(title="Equity", values=y_tick_values, format=".1f"))

legend = alt.Legend(title=None, orient="none", legendX=21, legendY=20,
                    symbolType="M-1,0H5", symbolSize=729,
                    labelFont=FONT, labelFontSize=37, labelColor="black", labelLimit=2000,
                    labelOffset=70, rowPadding=20, padding=14,
                    fillColor="white", strokeColor="#cccccc", cornerRadius=8)

color_enc = alt.Color("Series:N", scale=alt.Scale(domain=series_names, range=series_colors), legend=legend)
dash_enc = alt.StrokeDash("Series:N", scale=alt.Scale(domain=series_names, range=series_dashes), legend=legend)
width_enc = alt.StrokeWidth("Series:N", scale=alt.Scale(domain=series_names, range=series_widths), legend=legend)

base = alt.Chart(df)

baseline = alt.Chart(pd.DataFrame({"Equity": baseline_equity})).mark_rule(
    color="#808080", strokeDash=[3, 5], strokeWidth=2.6, opacity=0.8
).encode(y=alt.Y("Equity:Q"))

layers = [baseline]
for name in series_names:
    layers.append(
        base.transform_filter(alt.datum.Series == name)
        .mark_line(strokeJoin="round", strokeCap="butt")
        .encode(x=x_enc, y=y_enc, color=color_enc, strokeDash=dash_enc, strokeWidth=width_enc)
    )

offset_text = alt.Chart(pd.DataFrame({"t": [offset_label]})).mark_text(
    align="left", baseline="alphabetic", font=FONT, fontSize=33, color="black"
).encode(x=alt.value(0), y=alt.value(-10), text="t:N")

# figure-level title, centred on the whole figure (page x 1904 -> plot x 1734)
title_mark = alt.Chart(pd.DataFrame({"t": [title_text]})).mark_text(
    align="center", baseline="alphabetic", font=FONT, fontSize=40, color="black"
).encode(x=alt.value(1734), y=alt.value(-22), text="t:N")

wm_year = alt.Chart(pd.DataFrame({"t": ["\u2002".join(list(watermark_year))]})).mark_text(
    align="left", baseline="middle", angle=270, font=FONT, fontSize=40, fontWeight=200, color="#e0e0e0"
).encode(x=alt.value(3527), y=alt.value(1666), text="t:N")

wm_site = alt.Chart(pd.DataFrame({"t": ["\u2002\u200a".join(list(watermark_site))]})).mark_text(
    align="left", baseline="middle", angle=270, font=FONT, fontSize=40, fontWeight=200, color="#e0e0e0"
).encode(x=alt.value(3527), y=alt.value(1156), text="t:N")

chart = alt.layer(*layers, offset_text, title_mark, wm_year, wm_site).properties(
    width=PLOT_W, height=PLOT_H,
    autosize=alt.AutoSizeParams(type="none"),
    padding={"left": 162, "top": 63, "right": 0, "bottom": 97},
).configure_view(
    stroke="black", strokeWidth=2.6
).configure_axis(
    domain=False, grid=True, gridColor="#b0b0b0", gridOpacity=0.3, gridWidth=2.6,
    ticks=True, tickColor="black", tickSize=11.6, tickWidth=2.6,
    labelFont=FONT, labelFontSize=33, labelColor="black", labelPadding=11.6,
    titleFont=FONT, titleFontSize=33, titleFontWeight="normal", titleColor="black",
).configure_axisY(titlePadding=13).configure_axisX(titlePadding=3, labelFlush=False)

chart.save("out.html", embed_options={"renderer": "svg", "actions": False})
